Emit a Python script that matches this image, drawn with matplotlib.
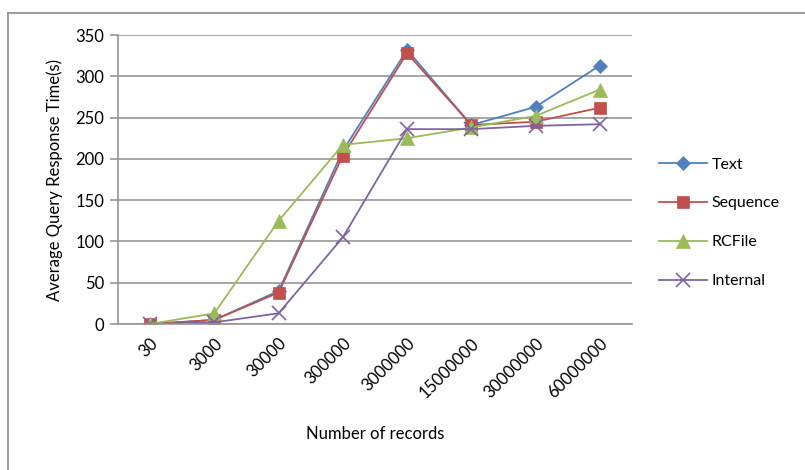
import matplotlib
matplotlib.use('Agg')
import matplotlib.pyplot as plt
from matplotlib.lines import Line2D

plt.rcParams['font.family'] = ['Lato', 'DejaVu Sans']

records = ['30', '3000', '30000', '300000', '3000000', '15000000', '30000000', '60000000']
text_times = [0, 5, 40, 210, 332, 241, 263, 313]
sequence_times = [0, 5, 38, 204, 328, 241, 245, 262]
rcfile_times = [0, 13, 125, 217, 225, 238, 252, 284]
internal_times = [0, 2, 13, 105, 236, 236, 240, 242]

series = [
    ('Text', text_times, '#4F81BD', 'D', 7),
    ('Sequence', sequence_times, '#C0504D', 's', 8.5),
    ('RCFile', rcfile_times, '#9BBB59', '^', 9.5),
    ('Internal', internal_times, '#8064A2', 'x', 10),
]

fig = plt.figure(figsize=(8.05, 4.7), dpi=100)
ax = fig.add_axes([0.1466, 0.3106, 0.6384, 0.6149])

x = list(range(len(records)))
for name, vals, color, marker, ms in series:
    ax.plot(x, vals, color=color, lw=1.3, marker=marker, markersize=ms,
            markeredgewidth=1.2 if marker == 'x' else 0.5,
            markeredgecolor=color, label=name)

ax.set_xlim(-0.5, len(records) - 0.5)
ax.set_ylim(0, 350)
ax.set_yticks(range(0, 351, 50))
ax.yaxis.grid(True, color='#969696', lw=1.2)
ax.set_axisbelow(True)
for side in ['top', 'right']:
    ax.spines[side].set_visible(False)
for side in ['left', 'bottom']:
    ax.spines[side].set_color('#969696')
    ax.spines[side].set_linewidth(1.2)
ax.tick_params(axis='y', length=6, color='#969696', width=1.2, labelsize=12, pad=4)
ax.tick_params(axis='x', length=0, labelsize=12, pad=8)
ax.set_xticks(x)
ax.set_xticklabels(records, rotation=45, ha='right', va='top', rotation_mode='anchor')

ax.set_ylabel('Average Query Response Time(s)', fontsize=12, labelpad=9)
ax.set_xlabel('Number of records', fontsize=12, labelpad=18)

ax.legend(loc='center left', bbox_to_anchor=(1.025, 0.35), frameon=False,
          fontsize=11.5, labelspacing=1.55, handlelength=3.0, handletextpad=0.3)

# chart border along the top and left edges
fig.add_artist(Line2D([0.0105, 1.0], [1 - 13 / 470, 1 - 13 / 470], color='#8C8C8C', lw=1.2,
                      transform=fig.transFigure))
fig.add_artist(Line2D([0.0105, 0.0105], [0.0, 1 - 13 / 470], color='#8C8C8C', lw=1.2,
                      transform=fig.transFigure))

fig.savefig('out.png', dpi=100)
